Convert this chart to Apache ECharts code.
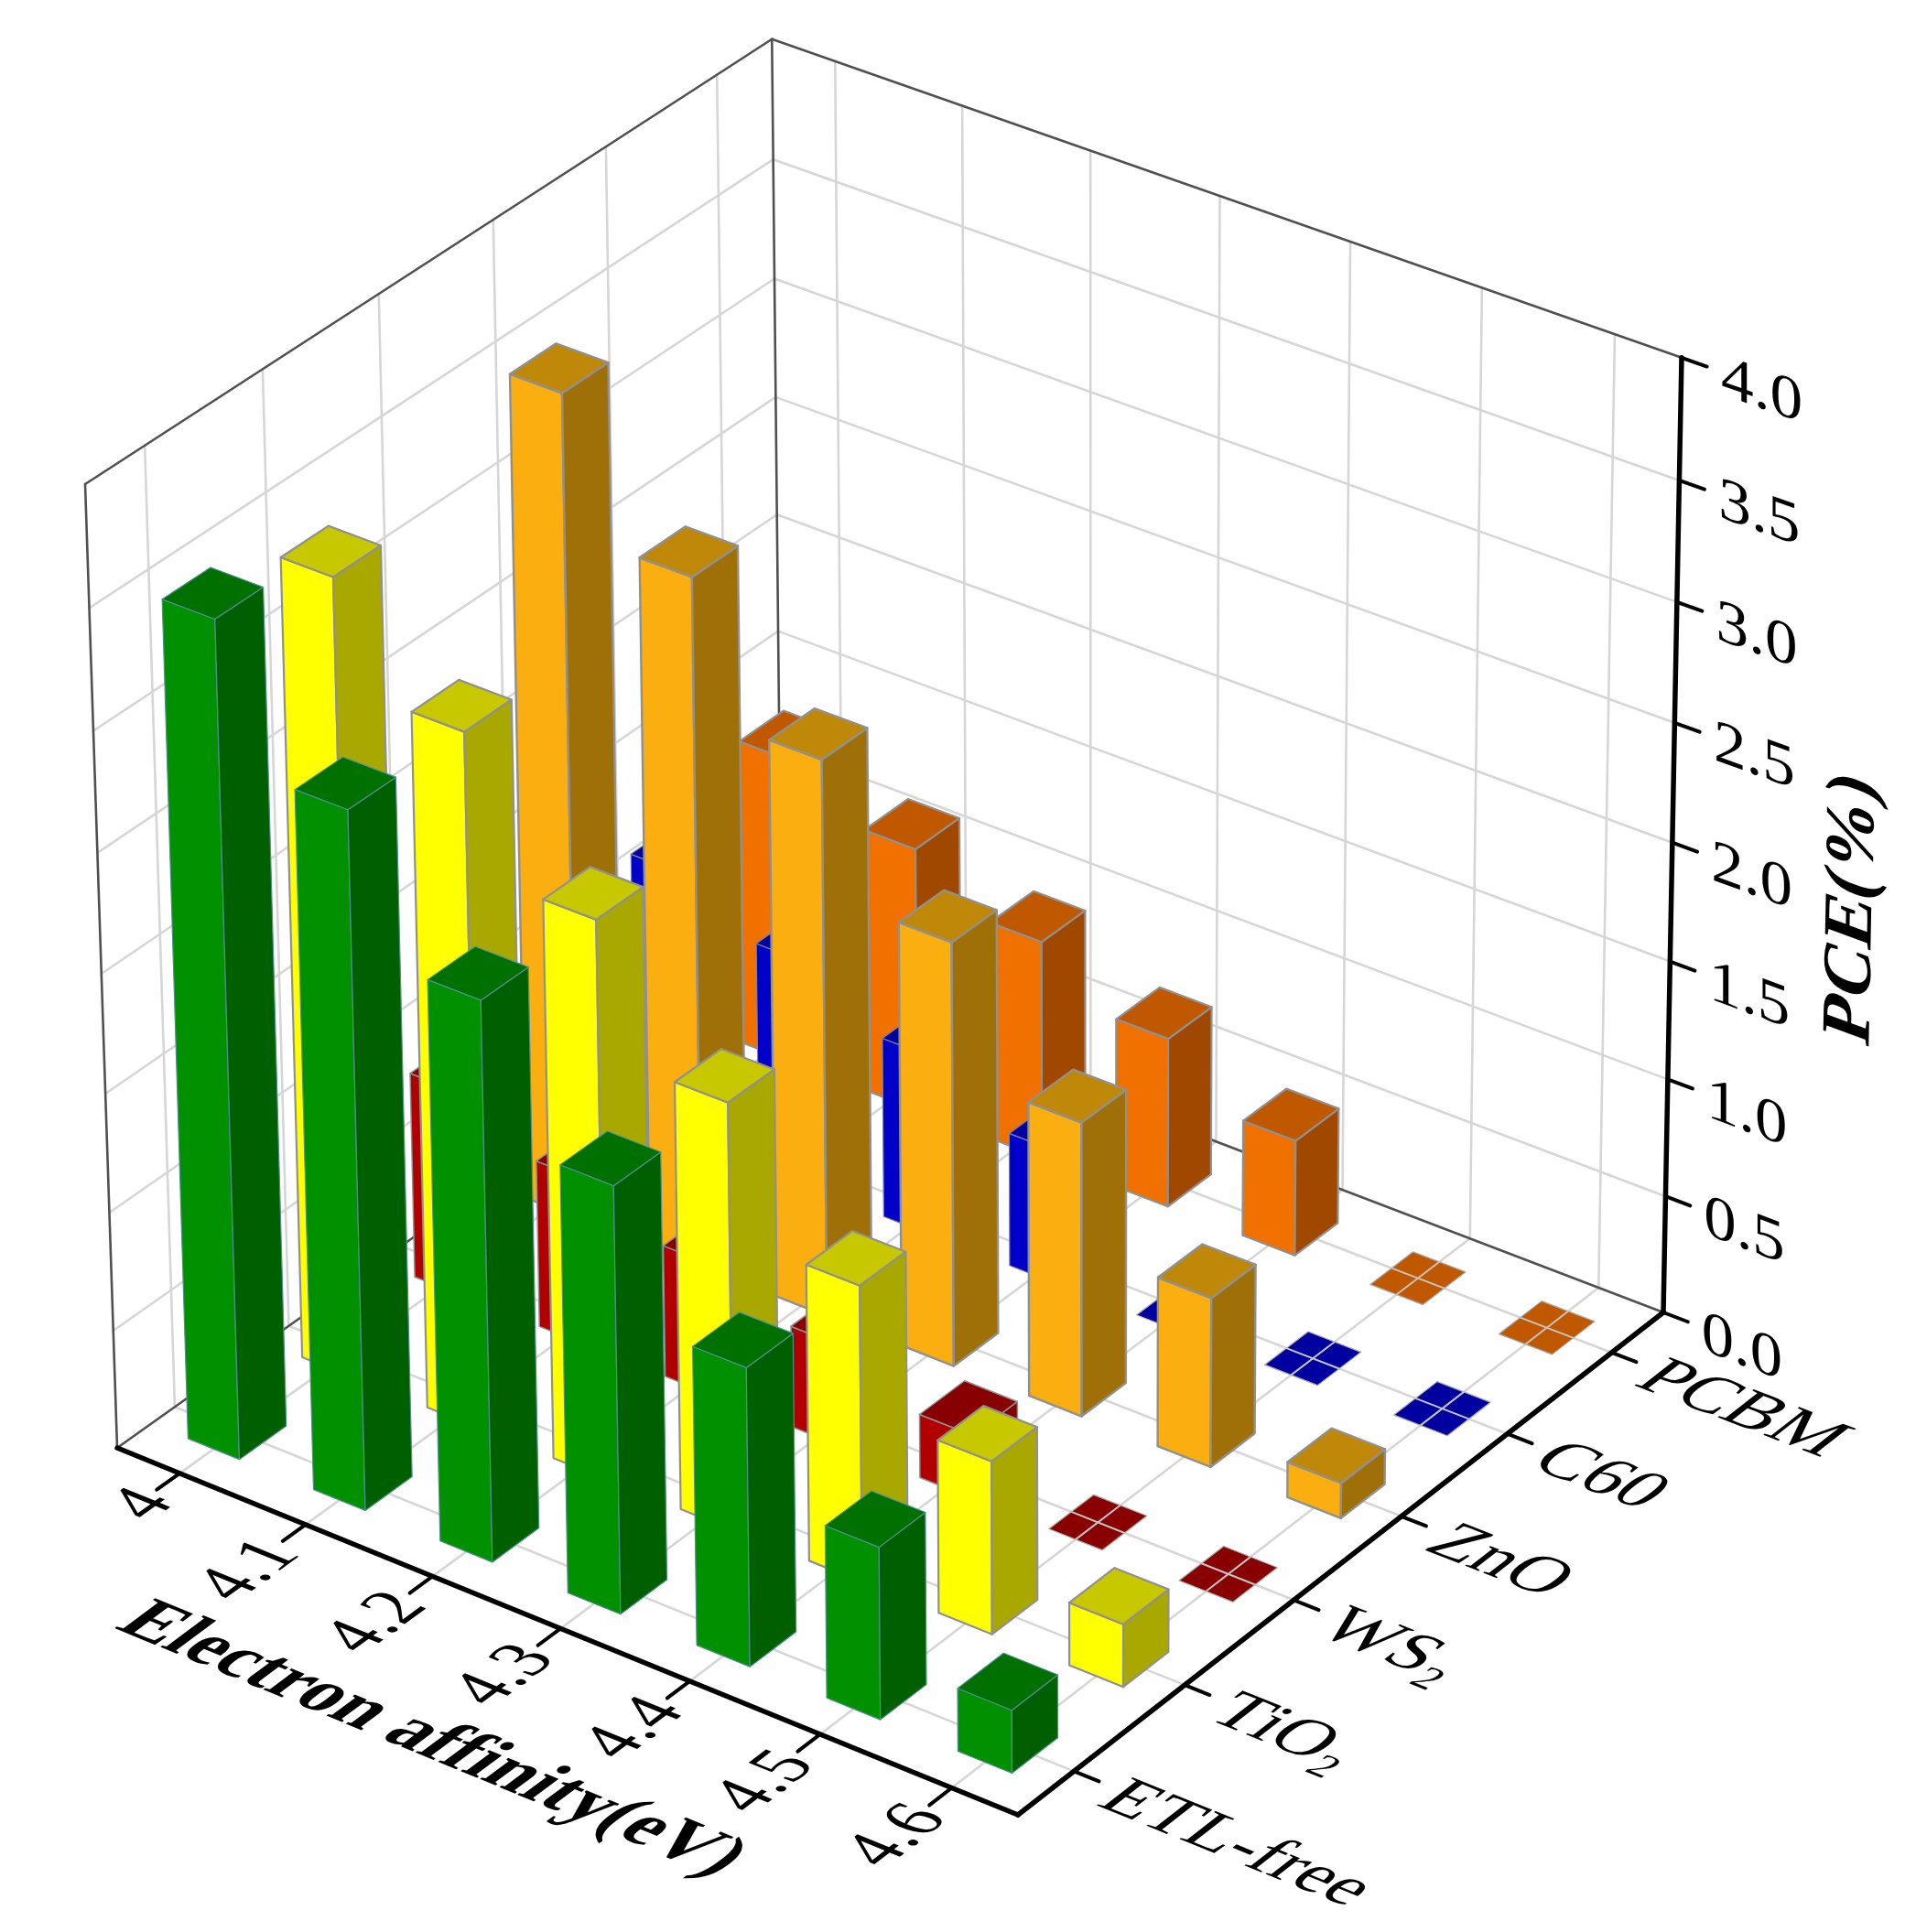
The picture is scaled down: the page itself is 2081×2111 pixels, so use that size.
<!DOCTYPE html>
<html>
<head>
<meta charset="utf-8">
<style>html,body{margin:0;padding:0;background:#fff}#c{width:2081px;height:2111px}</style>
<script src="https://cdn.jsdelivr.net/npm/echarts@6/dist/echarts.min.js"></script>
</head>
<body>
<div id="c"></div>
<script>
// ---------- data ----------
const affinityLabels = ['4', '4.1', '4.2', '4.3', '4.4', '4.5', '4.6'];
const materialLabels = ['ETL-free', 'TiO₂', 'WS₂', 'ZnO', 'C60', 'PCBM'];
const pceTicks = [0, 0.5, 1, 1.5, 2, 2.5, 3, 3.5, 4];
const pceTickLabels = ['0.0', '0.5', '1.0', '1.5', '2.0', '2.5', '3.0', '3.5', '4.0'];
const etlFree = [3.50, 2.925, 2.35, 1.795, 1.255, 0.725, 0.265];
const tio2 = [3.355, 2.92, 2.35, 1.80, 1.25, 0.73, 0.265];
const ws2 = [0.875, 0.71, 0.56, 0.43, 0.27, 0, 0];
const zno = [3.485, 2.92, 2.36, 1.80, 1.25, 0.72, 0.15];
const c60 = [1.15, 0.97, 0.77, 0.57, 0, 0, 0];
const pcbm = [1.31, 1.13, 0.935, 0.725, 0.495, 0, 0];
const barSeries = [etlFree, tio2, ws2, zno, c60, pcbm];
const xTitle = 'Electron affinity(eV)';
const zTitle = 'PCE(%)';

// ---------- styles ----------
const faceColors = [
  {front:'#009000', side:'#006000', top:'#007000', edge:'#4f8f8f', w:1.2},
  {front:'#ffff00', side:'#a8a800', top:'#c8c800', edge:'#909090', w:2.2},
  {front:'#b00000', side:'#800000', top:'#880000', edge:'#909090', w:1.5},
  {front:'#fbae10', side:'#a07008', top:'#c08808', edge:'#909090', w:2.4},
  {front:'#0000c8', side:'#000090', top:'#0000a0', edge:'#8080a0', w:1.2},
  {front:'#f07000', side:'#a04800', top:'#c05800', edge:'#909090', w:2.2}
];
const BAR_FRACTION = 0.41;
const FONT = '"Liberation Serif", "Times New Roman", serif';

// ---------- perspective camera fitted to the box corners ----------
const cL = [128, 1582], cF = [1112, 1983], cR = [1817, 1434], cB = [854, 1066];
const tL = [93, 529], tR = [1837, 390];
function buildCamera() {
  const [x0,y0]=cL,[x1,y1]=cF,[x2,y2]=cR,[x3,y3]=cB;
  const dx1=x1-x2,dx2=x3-x2,sx=x0-x1+x2-x3,dy1=y1-y2,dy2=y3-y2,sy=y0-y1+y2-y3;
  const den=dx1*dy2-dx2*dy1;
  const g=(sx*dy2-dx2*sy)/den,h=(dx1*sy-sx*dy1)/den;
  const a=x1-x0+g*x1,b=x3-x0+h*x3,c=x0,d=y1-y0+g*y1,e=y3-y0+h*y3,f=y0;
  // vertical vanishing point
  const kL=(tL[0]-cL[0])/(tL[1]-cL[1]),kR=(tR[0]-cR[0])/(tR[1]-cR[1]);
  const vy=(cR[0]-kR*cR[1]-cL[0]+kL*cL[1])/(kL-kR);
  const vx=cL[0]+kL*(vy-cL[1]);
  const s=(tL[1]-f)/(vy-tL[1]);
  return (u,v,t)=>{
    const w=g*u+h*v+1+s*t;
    return [(a*u+b*v+c+s*vx*t)/w,(d*u+e*v+f+s*vy*t)/w];
  };
}
const P = buildCamera();
const sub=(p,q)=>[p[0]-q[0],p[1]-q[1]];
const unit=(p,k)=>{const n=Math.hypot(p[0],p[1]);return [p[0]/n*k,p[1]/n*k];};

function line(p,q,stroke,w){
  return {type:'line',shape:{x1:p[0],y1:p[1],x2:q[0],y2:q[1]},style:{stroke:stroke,lineWidth:w,lineCap:'round'}};
}
// Text laid in a 3D plane: e1 = reading direction, e2 = letter-down direction
function planeText(text,p,e1,e2,o){
  const A=e1[0],B=e2[0],C=e1[1],D=e2[1];
  const E=(A+D)/2,F=(A-D)/2,G=(C+B)/2,H=(C-B)/2;
  const Q=Math.hypot(E,H),R=Math.hypot(F,G);
  const a1=Math.atan2(G,F),a2=Math.atan2(H,E);
  const theta=(a2-a1)/2,phi=(a2+a1)/2;
  return {type:'group',x:p[0],y:p[1],rotation:-phi,scaleX:Q+R,scaleY:Q-R,children:[{
    type:'text',rotation:-theta,
    style:{text:text,x:0,y:0,fill:'#000',fontFamily:FONT,fontSize:o.size,fontWeight:o.weight||'normal',
      fontStyle:'normal',textAlign:o.align||'center',align:o.align||'center',
      textVerticalAlign:'middle',verticalAlign:'middle'}
  }]};
}

// ---------- frame: walls, grid, axes, labels ----------
function renderFrame(){
  const ch=[];
  const GRID='#d6d6d6',WALL='#505050',AXIS='#000';
  const nU=affinityLabels.length,nV=materialLabels.length,zMax=pceTicks[pceTicks.length-1];
  const uc=i=>(i+0.5)/nU, vc=j=>(j+0.5)/nV, tc=z=>z/zMax;
  // grid lines
  for(let i=0;i<nU;i++){
    ch.push(line(P(uc(i),0,0),P(uc(i),1,0),GRID,2.6));
    ch.push(line(P(uc(i),1,0),P(uc(i),1,1),GRID,2.6));
  }
  for(let j=0;j<nV;j++){
    ch.push(line(P(0,vc(j),0),P(1,vc(j),0),GRID,2.6));
    ch.push(line(P(0,vc(j),0),P(0,vc(j),1),GRID,2.6));
  }
  pceTicks.forEach(z=>{
    if(z===0||z===zMax) return;
    ch.push(line(P(0,0,tc(z)),P(0,1,tc(z)),GRID,2.6));
    ch.push(line(P(0,1,tc(z)),P(1,1,tc(z)),GRID,2.6));
  });
  // wall borders
  ch.push(line(P(0,0,0),P(0,0,1),WALL,2.6));
  ch.push(line(P(0,1,0),P(0,1,1),WALL,2.6));
  ch.push(line(P(0,0,1),P(0,1,1),WALL,2.6));
  ch.push(line(P(0,1,1),P(1,1,1),WALL,2.6));
  ch.push(line(P(0,0,0),P(0,1,0),WALL,2.6));
  ch.push(line(P(0,1,0),P(1,1,0),WALL,2.6));
  // bold axes
  ch.push(line(P(0,0,0),P(1,0,0),AXIS,5.5));
  ch.push(line(P(1,0,0),P(1,1,0),AXIS,5.5));
  ch.push(line(P(1,1,0),P(1,1,1),AXIS,5.5));
  // ticks and tick labels
  affinityLabels.forEach((lab,i)=>{
    ch.push(line(P(uc(i),0,0),P(uc(i),-0.033,0),AXIS,4));
    const p=P(uc(i)+0.006,-0.04,0);
    ch.push(planeText(lab,p,unit(sub(P(uc(i),0.1,0),P(uc(i),-0.1,0)),0.86),unit(sub(P(uc(i)+0.05,0,0),P(uc(i)-0.05,0,0)),1.0),{size:84,align:'right'}));
  });
  materialLabels.forEach((lab,j)=>{
    ch.push(line(P(1,vc(j),0),P(1.027,vc(j),0),AXIS,4));
    const p=P(1.045,vc(j)-0.01,0);
    ch.push(planeText(lab,p,unit(sub(P(1.1,vc(j),0),P(1,vc(j),0)),1),unit(sub(P(1,vc(j)-0.05,0),P(1,vc(j)+0.05,0)),0.95),{size:80,align:'left'}));
  });
  pceTicks.forEach((z,k)=>{
    ch.push(line(P(1,1,tc(z)),P(1.027,1,tc(z)),AXIS,4));
    const b=P(1.042,1,tc(z));
    ch.push(planeText(pceTickLabels[k],[b[0],b[1]+7],unit(sub(P(1.1,1,tc(z)),P(1,1,tc(z))),1.08),[0,0.95],{size:70,align:'left'}));
  });
  // axis titles
  ch.push(planeText(xTitle,P(0.515,-0.207,0),unit(sub(P(0.6,-0.207,0),P(0.4,-0.207,0)),0.96),unit(sub(P(0.5,-0.25,0),P(0.5,-0.15,0)),1.0),{size:84,weight:'bold'}));
  ch.push(planeText(zTitle,P(1.195,1,0.5),[0.02,-1],unit(sub(P(1.25,1,0.5),P(1.15,1,0.5)),1.02),{size:79,weight:'bold'}));
  return {type:'group',children:ch};
}

// ---------- 3D bars ----------
function makeBarRenderer(j){
  const col=faceColors[j];
  return function(params,api){
    const i=api.value(0),val=api.value(1);
    const W=1000;
    const c0=api.coord([i,0]),c1=api.coord([i,val]);
    const cellW=api.size([1,0])[0];
    const uc=c0[0]/W, t=(c0[1]-c1[1])/W;
    const hu=cellW/W*BAR_FRACTION/2, hv=BAR_FRACTION/materialLabels.length/2;
    const vc=(j+0.5)/materialLabels.length;
    const u0=uc-hu,u1=uc+hu,v0=vc-hv,v1=vc+hv;
    const poly=(pts,fill,stroke,lw)=>({type:'polygon',shape:{points:pts},style:{fill:fill,stroke:stroke||col.edge,lineWidth:lw==null?col.w:lw,lineJoin:'round'}});
    const ch=[];
    if(val>0){
      ch.push(poly([P(u0,v0,0),P(u1,v0,0),P(u1,v0,t),P(u0,v0,t)],col.front));
      ch.push(poly([P(u1,v0,0),P(u1,v1,0),P(u1,v1,t),P(u1,v0,t)],col.side));
    }
    ch.push(poly([P(u0,v0,t),P(u1,v0,t),P(u1,v1,t),P(u0,v1,t)],col.top,val>0?undefined:'#a8a8a8',val>0?undefined:1.2));
    if(val===0){
      ch.push(line(P(u0,vc,0),P(u1,vc,0),'#c4c4c4',2));
      ch.push(line(P(uc,v0,0),P(uc,v1,0),'#c4c4c4',2));
    }
    return {type:'group',children:ch};
  };
}

const chart=echarts.init(document.getElementById('c'),null,{renderer:'canvas',width:2081,height:2111});
const series=[{
  type:'custom',name:'frame',coordinateSystem:'cartesian2d',silent:true,clip:false,
  data:[[0,0]],renderItem:renderFrame,z:1
}];
// far rows first so that nearer bars cover them
for(let j=barSeries.length-1;j>=0;j--){
  series.push({
    type:'custom',name:materialLabels[j],coordinateSystem:'cartesian2d',silent:true,clip:false,
    data:barSeries[j].map((v,i)=>[i,v]),
    encode:{x:0,y:1},
    renderItem:makeBarRenderer(j),z:2+(barSeries.length-j)
  });
}
chart.setOption({
  animation:false,backgroundColor:'#fff',
  // hidden scales: 1000 x 1000 unit box mapped through the camera above
  grid:{left:0,top:0,width:1000,height:1000,show:false,containLabel:false},
  xAxis:{type:'category',data:affinityLabels,show:false,boundaryGap:true},
  yAxis:{type:'value',min:0,max:4,interval:0.5,show:false},
  series:series
});
</script>
</body>
</html>
